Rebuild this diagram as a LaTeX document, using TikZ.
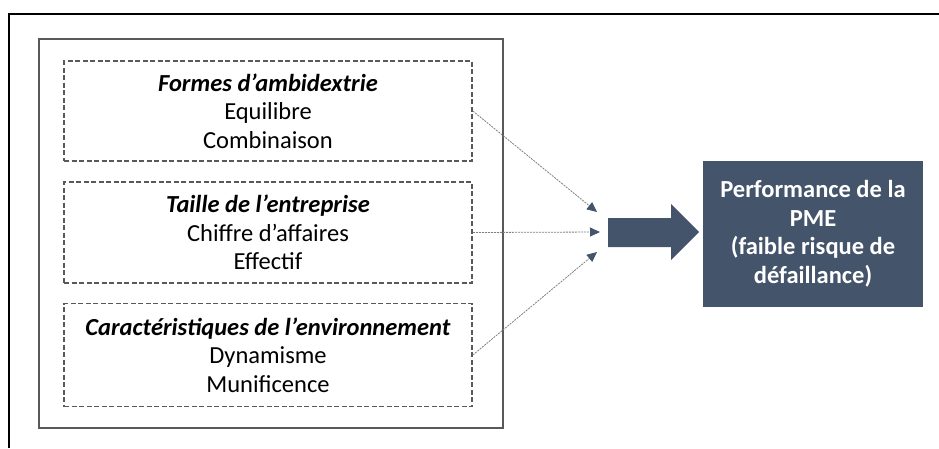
\documentclass[tikz,border=0pt]{standalone}
\usepackage{fontspec}
\setmainfont{Carlito}
\usetikzlibrary{arrows.meta}
\definecolor{slate}{HTML}{44546A}
\definecolor{boxgray}{HTML}{595959}
\definecolor{dotgray}{HTML}{7F7F7F}
\tikzset{
  dbox/.style={draw=boxgray, line width=1.6pt, dash pattern=on 5pt off 2.5pt,
    minimum width=408pt, align=center, inner sep=0pt,
    font=\fontsize{24.5}{28.5}\selectfont},
  outbox/.style={fill=slate, text=white, minimum width=220pt, minimum height=146pt,
    align=center, inner sep=0pt, font=\fontsize{24.5}{28.5}\selectfont\bfseries},
  dotarrow/.style={draw=dotgray, line width=0.8pt, dash pattern=on 2pt off 1pt,
    -{Triangle[length=10pt,width=9pt,color=slate,fill=slate]}}
}
\begin{document}
\begin{tikzpicture}[x=1pt,y=-1pt]
\useasboundingbox (0,0) rectangle (939,448);
% outer frame (top and left edges)
\draw[line width=2.5pt, black] (9,448) -- (9,14) -- (939,14);
% inner solid frame
\draw[draw=boxgray, line width=2pt] (39,39) rectangle (503,428);
% dashed boxes
\node[dbox, minimum height=100pt] (b1) at (268,111)
  {\textbf{\textit{Formes d’ambidextrie}}\\Equilibre\\Combinaison};
\node[dbox, minimum height=101pt] (b2) at (268,232.5)
  {\textbf{\textit{Taille de l’entreprise}}\\Chiffre d’affaires\\Effectif};
\node[dbox, minimum height=103pt] (b3) at (268,355)
  {\textbf{\textit{Caractéristiques de l’environnement}}\\Dynamisme\\Munificence};
% result box
\node[outbox] (res) at (813,234)
  {Performance de la\\PME\\(faible risque de\\défaillance)};
% big arrow
\fill[slate] (608,218) -- (671,218) -- (671,204) -- (699,232) -- (671,260)
  -- (671,247) -- (608,247) -- cycle;
% dotted arrows
\coordinate (t1) at (597,212);
\coordinate (t2) at (600,232);
\coordinate (t3) at (597,252);
\draw[dotarrow] (b1.east) -- (t1);
\draw[dotarrow] (b2.east) -- (t2);
\draw[dotarrow] (b3.east) -- (t3);
\end{tikzpicture}
\end{document}
